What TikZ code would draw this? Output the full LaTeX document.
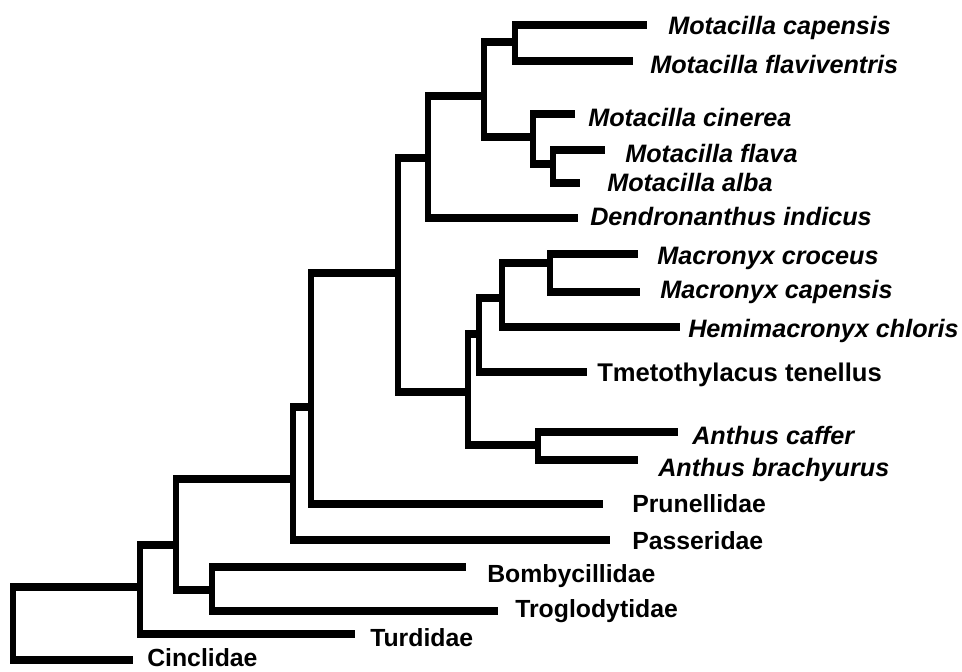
\documentclass[tikz,border=0pt]{standalone}
\usepackage{fontspec}
\setmainfont{Liberation Sans}
\usetikzlibrary{calc}
\tikzset{
  vl/.style={line width=4.5pt, line cap=rect},
  hl/.style={line width=6pt, line cap=butt},
  sp/.style={anchor=base west, inner sep=0pt, font=\fontsize{18.9pt}{20pt}\selectfont\bfseries\itshape},
  fam/.style={anchor=base west, inner sep=0pt, font=\fontsize{18.6pt}{20pt}\selectfont\bfseries},
}
\newcommand\brn[2]{\draw[vl] (#1) -- (#1 |- #2); \draw[hl] ($(#1 |- #2)+(-2.25pt,0)$) -- (#2);}
\begin{document}
\begin{tikzpicture}[x=0.75pt,y=-0.75pt]
\useasboundingbox (0,0) rectangle (962,671);
% internal nodes
\coordinate (root) at (13,587);
\coordinate (A) at (140,587);
\coordinate (B) at (176,545);
\coordinate (D) at (212,590);
\coordinate (C) at (293,479);
\coordinate (E) at (311,407);
\coordinate (F) at (398,273);
\coordinate (G) at (428,158);
\coordinate (I) at (484,96);
\coordinate (J) at (515,42);
\coordinate (K) at (533,137);
\coordinate (L) at (553,164);
\coordinate (H) at (468,392);
\coordinate (M) at (479,334);
\coordinate (O) at (502,298);
\coordinate (P) at (550,263);
\coordinate (N) at (538,445);
% leaf tips
\coordinate (cinc) at (133,660);
\coordinate (turd) at (355,634);
\coordinate (bomb) at (466,567);
\coordinate (trog) at (498,611);
\coordinate (pass) at (610,540);
\coordinate (prun) at (603,504);
\coordinate (dend) at (578,218);
\coordinate (mcap) at (647,25);
\coordinate (mfla) at (633,61);
\coordinate (mcin) at (575,114);
\coordinate (mflv) at (605,150);
\coordinate (malb) at (580,183);
\coordinate (croc) at (638,254);
\coordinate (xcap) at (640,292);
\coordinate (hemi) at (680,327);
\coordinate (tmet) at (587,372);
\coordinate (caff) at (678,432);
\coordinate (brac) at (638,460);
% labels
\node[sp] (Lmcap) at (668,34) {Motacilla capensis};
\node[sp] (Lmfla) at (650,73) {Motacilla flaviventris};
\node[sp] (Lmcin) at (588,126) {Motacilla cinerea};
\node[sp] (Lmflv) at (625,162) {Motacilla flava};
\node[sp] (Lmalb) at (607,191) {Motacilla alba};
\node[sp] (Ldend) at (590,225) {Dendronanthus indicus};
\node[sp] (Lcroc) at (657,264) {Macronyx croceus};
\node[sp] (Lxcap) at (660,298) {Macronyx capensis};
\node[sp] (Lhemi) at (688,337) {Hemimacronyx chloris};
\node[fam,font=\fontsize{19.2pt}{20pt}\selectfont\bfseries] (Ltmet) at (597,381) {Tmetothylacus tenellus};
\node[sp] (Lcaff) at (692,444) {Anthus caffer};
\node[sp] (Lbrac) at (658,476) {Anthus brachyurus};
\node[fam] (Lprun) at (632,512) {Prunellidae};
\node[fam] (Lpass) at (632,549) {Passeridae};
\node[fam] (Lbomb) at (487,582) {Bombycillidae};
\node[fam] (Ltrog) at (515,617) {Troglodytidae};
\node[fam] (Lturd) at (370,646) {Turdidae};
\node[fam, text depth=0pt] (Lcinc) at (147,666) {Cinclidae};
% branches
\brn{root}{A} \brn{root}{cinc}
\brn{A}{B} \brn{A}{turd}
\brn{B}{C} \brn{B}{D}
\brn{D}{bomb} \brn{D}{trog}
\brn{C}{E} \brn{C}{pass}
\brn{E}{F} \brn{E}{prun}
\brn{F}{G} \brn{F}{H}
\brn{G}{I} \brn{G}{dend}
\brn{I}{J} \brn{I}{K}
\brn{J}{mcap} \brn{J}{mfla}
\brn{K}{mcin} \brn{K}{L}
\brn{L}{mflv} \brn{L}{malb}
\brn{H}{M} \brn{H}{N}
\brn{M}{O} \brn{M}{tmet}
\brn{O}{P} \brn{O}{hemi}
\brn{P}{croc} \brn{P}{xcap}
\brn{N}{caff} \brn{N}{brac}
\end{tikzpicture}
\end{document}
